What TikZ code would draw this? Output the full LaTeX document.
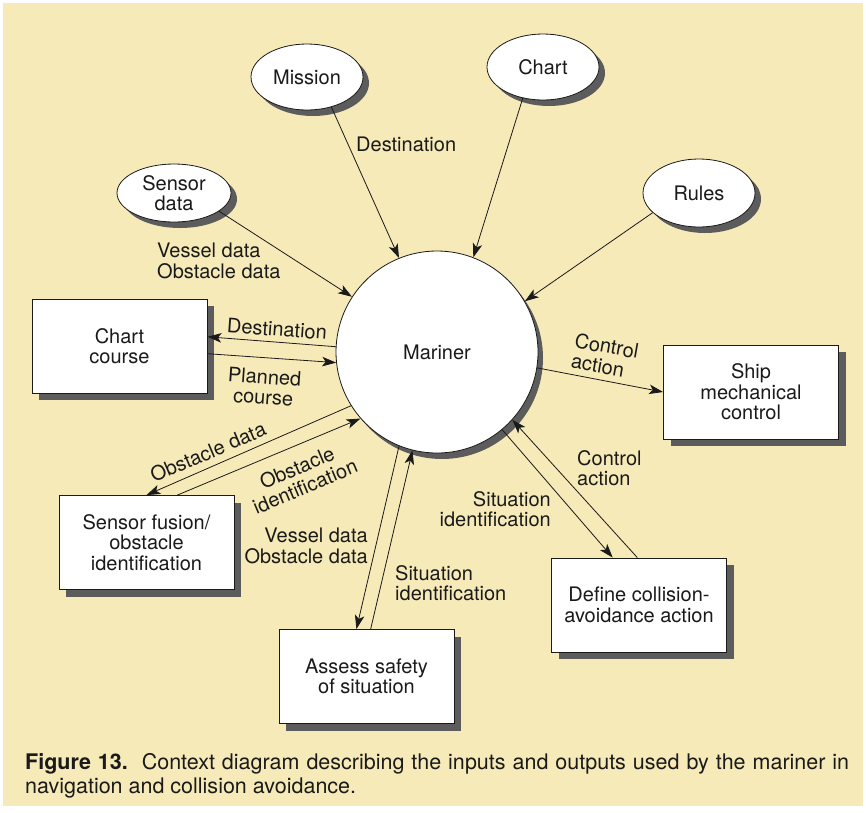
\documentclass[tikz,border=0pt]{standalone}
\usepackage{fontspec}
\setmainfont{TeX Gyre Heros}
\usetikzlibrary{shapes.geometric,arrows.meta,shadows}
\definecolor{paper}{HTML}{F7EAB9}
\definecolor{shade}{HTML}{5C5C5C}
\definecolor{ink}{HTML}{1A1A1A}
\begin{document}
\begin{tikzpicture}[x=1pt,y=-1pt,
  every node/.style={font=\fontsize{20}{20.5}\selectfont, text=ink},
  source/.style={ellipse, draw=ink, line width=0.8pt, fill=white, inner sep=0pt,
    minimum width=112pt, minimum height=66pt, align=center,
    drop shadow={shadow xshift=6pt, shadow yshift=-6pt, opacity=1, fill=shade}},
  proc/.style={rectangle, draw=ink, line width=0.8pt, fill=white, inner sep=0pt,
    minimum width=175pt, minimum height=94pt, align=center,
    drop shadow={shadow xshift=7pt, shadow yshift=-7pt, opacity=1, fill=shade}},
  flow/.style={draw=ink, line width=0.8pt, -{Stealth[length=14pt,width=9.5pt,inset=3.5pt]}},
  lbl/.style={inner sep=0pt, align=center},
]
\useasboundingbox (0,0) rectangle (866,812);
\fill[white] (0,0) rectangle (866,812);
\fill[paper] (3,3) rectangle (863,806);

% external sources
\node[source] (mission) at (307,77) {Mission};
\node[source] (chart) at (543,67) {Chart};
\node[source, minimum height=68pt] (rules) at (699,193) {Rules};
\node[source, minimum width=114pt, minimum height=58pt] (sensor) at (174,193) {Sensor\\data};

% central process
\node[circle, draw=ink, line width=0.8pt, fill=white, minimum size=202pt, inner sep=0pt,
  drop shadow={shadow xshift=5pt, shadow yshift=-6pt, opacity=1, fill=shade}] (mariner) at (437,352) {Mariner};

% sub-processes
\node[proc] (chartcourse) at (119.5,346) {Chart\\course};
\node[proc] (fusion) at (146.5,542.5) {Sensor fusion/\\obstacle\\identification};
\node[proc] (ship) at (751,392) {Ship\\mechanical\\control};
\node[proc] (define) at (639,605) {Define collision-\\avoidance action};
\node[proc] (assess) at (366.5,676.5) {Assess safety\\of situation};

% data flows
\draw[flow] (mission.-51) -- (mariner.112);
\draw[flow] (chart.237) -- (mariner.69);
\draw[flow] (rules.203) -- (mariner.30);
\draw[flow] (sensor.-22) -- (mariner.147);
\draw[flow] (mariner.177) -- (chartcourse.6);
\draw[flow] (chartcourse.-5) -- (mariner.186);
\draw[flow] (mariner.212) -- (fusion.north);
\draw[flow] (fusion.57) -- (mariner.221);
\draw[flow] (mariner.248) -- (assess.102);
\draw[flow] (assess.85) -- (mariner.256);
\draw[flow] (mariner.310) -- (define.119);
\draw[flow] (define.92) -- (mariner.318);
\draw[flow] (mariner.351) -- (ship.west);

% flow labels
\node[lbl, anchor=west] (dest1) at (356,144) {Destination};
\node[lbl, anchor=west, align=left] (sens) at (157,261) {Vessel data\\Obstacle data};
\node[lbl, rotate=-4] (dest2) at (277,329) {Destination};
\node[lbl, rotate=-4] (plan) at (264,387) {Planned\\course};
\node[lbl, rotate=23] (obsdata) at (208,452) {Obstacle data};
\node[lbl, rotate=23] (obsid) at (301,477) {Obstacle\\identification};
\node[lbl, anchor=east, align=right] (vessel) at (368,546) {Vessel data\\Obstacle data};
\node[lbl, anchor=west, align=left] (sit1) at (395,583) {Situation\\identification};
\node[lbl, anchor=east, align=right] (sit2) at (551,509) {Situation\\identification};
\node[lbl, anchor=west, align=left] (ctrl1) at (577,468) {Control\\action};
\node[lbl, rotate=-10, align=left] (ctrl2) at (605,356) {Control\\action};

% caption, first line set full measure
\node[anchor=west, align=left, inner sep=0pt, font=\fontsize{21.5}{24}\selectfont] (caption) at (25,776)
  {\hbox to 824pt{\textbf{Figure 13.}\ \ Context diagram describing the inputs and outputs used by the mariner in}\\navigation and collision avoidance.};
\end{tikzpicture}
\end{document}
